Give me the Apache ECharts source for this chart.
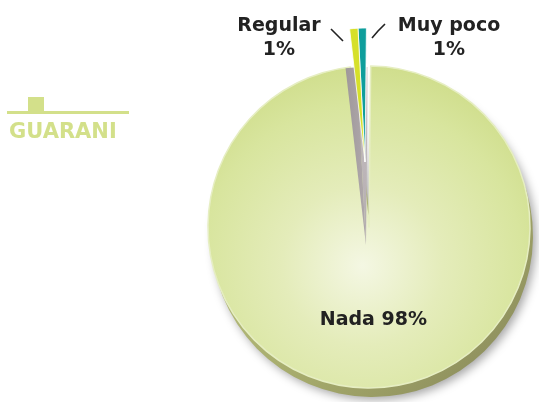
<!DOCTYPE html>
<html>
<head>
<meta charset="utf-8">
<script src="https://cdn.jsdelivr.net/npm/echarts@6/dist/echarts.min.js"></script>
<style>
  html, body { margin: 0; padding: 0; background: #fff; }
  #chart { width: 539px; height: 402px; }
</style>
</head>
<body>
<div id="chart"></div>
<script>
  // data
  var categories = ['Muy poco', 'Nada', 'Regular'];
  var values = [1, 98, 1];
  var sliceColors = ['#0e9e9c', '#dbe6a6', '#d6e02a'];
  var title = 'GUARANI';

  var chart = echarts.init(document.getElementById('chart'));

  var faceColor = new echarts.graphic.RadialGradient(0.48, 0.62, 0.62, [
    { offset: 0, color: '#f4f7e3' },
    { offset: 0.4, color: '#e4ecba' },
    { offset: 0.8, color: '#d8e59e' },
    { offset: 1, color: '#d0de8d' }
  ]);
  var rimColor = new echarts.graphic.LinearGradient(0, 0, 1, 1, [
    { offset: 0, color: '#c6d08c' },
    { offset: 0.6, color: '#a6ab6c' },
    { offset: 1, color: '#858558' }
  ]);
  // left half of the cut is in shadow, right half a bit lighter
  var gapColors = [
    new echarts.graphic.LinearGradient(0, 0, 0, 1, [
      { offset: 0, color: '#e4e0e1' },
      { offset: 0.4, color: '#c0b9bc' },
      { offset: 1, color: '#b3acaf' }
    ]),
    null,
    new echarts.graphic.LinearGradient(0, 0, 1, 0, [
      { offset: 0, color: '#9f989a' },
      { offset: 1, color: '#b0a9ac' }
    ])
  ];

  // main slice (index 1) is hidden on the pulled-out layer and vice versa
  function build(colorFn, hideMain, hideSmall) {
    return categories.map(function (name, i) {
      var hidden = (i === 1 && hideMain) || (i !== 1 && hideSmall);
      var item = { name: name, value: values[i], itemStyle: { color: colorFn(i) } };
      if (hidden) {
        item.itemStyle.color = 'transparent';
        item.itemStyle.borderWidth = 0;
        item.label = { show: false };
        item.labelLine = { show: false };
      }
      return item;
    });
  }

  var labelPos = {
    0: { x: 449, y: 38, line: [[385, 24], [378, 31], [372, 38]] },
    2: { x: 279, y: 38, line: [[331, 29], [337, 35], [343, 41]] }
  };

  var option = {
    backgroundColor: '#ffffff',
    animation: false,
    title: {
      text: title,
      left: 4,
      top: 117,
      textStyle: {
        fontFamily: 'DejaVu Sans',
        fontWeight: 'bold',
        fontSize: 21,
        color: '#d3e08a'
      }
    },
    graphic: [
      { type: 'rect', shape: { x: 7, y: 111, width: 122, height: 3 }, style: { fill: '#d3e08a' } },
      { type: 'rect', shape: { x: 28, y: 97, width: 16, height: 15 }, style: { fill: '#d3e08a' } }
    ],
    series: [
      {
        // side wall of the disk
        type: 'pie',
        z: 1,
        center: [372, 236],
        radius: 161,
        startAngle: 93,
        silent: true,
        label: { show: false },
        labelLine: { show: false },
        itemStyle: {
          shadowBlur: 10,
          shadowColor: 'rgba(0,0,0,0.35)',
          shadowOffsetX: 3,
          shadowOffsetY: 3
        },
        data: build(function () { return rimColor; }, false, true)
      },
      {
        // main face
        type: 'pie',
        z: 2,
        center: [369, 227],
        radius: 161,
        startAngle: 93,
        silent: true,
        itemStyle: { borderColor: '#e6eec2', borderWidth: 1.5 },
        labelLine: { show: false },
        label: {
          show: true,
          position: 'inside',
          formatter: '{b} {c}%',
          fontFamily: 'DejaVu Sans',
          fontWeight: 'bold',
          fontSize: 19,
          color: '#222222'
        },
        labelLayout: { dy: 10 },
        data: build(function () { return faceColor; }, false, true)
      },
      {
        // shadow inside the cut
        type: 'pie',
        z: 3,
        center: [366, 245],
        radius: 178,
        startAngle: 93,
        silent: true,
        label: { show: false },
        labelLine: { show: false },
        data: build(function (i) { return gapColors[i]; }, true, false)
      },
      {
        // pulled out small slices
        type: 'pie',
        z: 4,
        center: [365, 162],
        radius: 134,
        startAngle: 93,
        silent: true,
        itemStyle: { borderColor: '#ffffff', borderWidth: 0.8 },
        label: {
          show: true,
          position: 'outside',
          formatter: '{b}\n{c}%',
          fontFamily: 'DejaVu Sans',
          fontWeight: 'bold',
          fontSize: 19,
          lineHeight: 24,
          color: '#222222'
        },
        labelLine: {
          show: true,
          lineStyle: { color: '#222222', width: 1.6 }
        },
        labelLayout: function (params) {
          var p = labelPos[params.dataIndex];
          if (!p) return {};
          return { x: p.x, y: p.y, align: 'center', verticalAlign: 'middle', labelLinePoints: p.line };
        },
        data: build(function (i) { return sliceColors[i]; }, true, false)
      }
    ]
  };

  chart.setOption(option);
</script>
</body>
</html>
